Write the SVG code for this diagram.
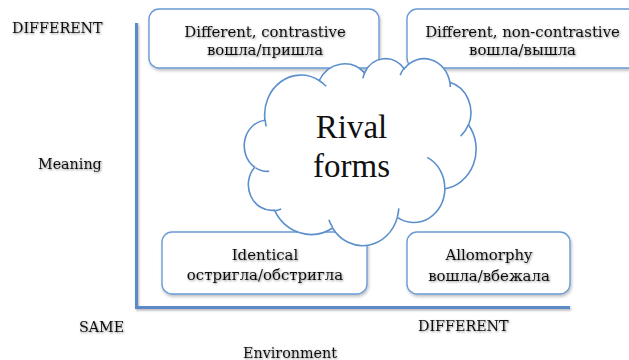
<svg xmlns="http://www.w3.org/2000/svg" width="629" height="360" viewBox="0 0 629 360">
<style>
.box{fill:#ffffff;stroke:#6a9bd6;stroke-width:1.4;filter:url(#bs)}
.t{font-family:"DejaVu Serif","Liberation Serif",serif;font-size:14.9px;fill:#111;text-anchor:middle;filter:url(#ts)}
.lab{font-family:"DejaVu Serif","Liberation Serif",serif;font-size:14.3px;fill:#111;filter:url(#ts)}
.axis{stroke:#5b8ac8;stroke-width:3;fill:none;filter:url(#as)}
.cloud{fill:#ffffff;stroke:#5b8fcb;stroke-width:1.6}
.rival{font-family:"Liberation Serif","Times New Roman",serif;font-size:33px;fill:#111;text-anchor:middle}
</style>
<defs>
<filter id="bs" x="-10%" y="-20%" width="120%" height="150%"><feDropShadow dx="1" dy="2" stdDeviation="1.5" flood-color="#000" flood-opacity="0.25"/></filter>
<filter id="ts" x="-10%" y="-30%" width="120%" height="160%"><feDropShadow dx="0.8" dy="1" stdDeviation="0.9" flood-color="#000" flood-opacity="0.45"/></filter>
<filter id="as" x="-10%" y="-10%" width="120%" height="120%"><feDropShadow dx="1" dy="1.5" stdDeviation="1" flood-color="#000" flood-opacity="0.3"/></filter>
</defs>
<rect width="629" height="360" fill="#ffffff"/>
<g id="connectors">
<path class="axis" d="M136.5,23 V307.5 H570"/>
</g>
<g id="labels">
<text class="lab" x="12" y="33">DIFFERENT</text>
<text class="lab" x="38" y="169">Meaning</text>
<text class="lab" x="79" y="332">SAME</text>
<text class="lab" x="418" y="331">DIFFERENT</text>
<text class="lab" x="243" y="358">Environment</text>
</g>
<g id="box-contrastive">
<rect class="box" x="149" y="9" width="230" height="59" rx="10"/>
<text class="t" x="265" y="37">Different, contrastive</text>
<text class="t" x="265" y="55">вошла/пришла</text>
</g>
<g id="box-noncontrastive">
<rect class="box" x="407" y="9" width="231" height="59" rx="10"/>
<text class="t" x="522.5" y="37">Different, non-contrastive</text>
<text class="t" x="522.5" y="55">вошла/вышла</text>
</g>
<g id="box-identical">
<rect class="box" x="162" y="232" width="205" height="62" rx="10"/>
<text class="t" x="265" y="260">Identical</text>
<text class="t" x="265" y="280">остригла/обстригла</text>
</g>
<g id="box-allomorphy">
<rect class="box" x="407" y="232" width="163" height="62" rx="10"/>
<text class="t" x="489" y="260">Allomorphy</text>
<text class="t" x="489" y="281">вошла/вбежала</text>
</g>
<g id="cloud-rival">
<g transform="translate(244,58) scale(0.0053704,0.0043287)">
<path class="cloud" vector-effect="non-scaling-stroke" d="M3900 14370 A6753 9190 0 0 1 14006 5203 A5333 7267 0 0 1 22458 3435 A4365 5945 0 0 1 29836 2485 A4857 6595 0 0 1 38321 5580 A5333 7273 0 0 1 41821 15464 A6775 9220 0 0 1 37407 30208 A5785 7867 0 0 1 28559 36819 A6752 9215 0 0 1 16484 39272 A7720 10543 0 0 1 5674 35147 A4360 5918 0 0 1 1981 25228 A4345 5945 0 0 1 3900 14370 Z"/>
<path class="cloud" style="fill:none" vector-effect="non-scaling-stroke" d="M4693 26177 A4345 5945 0 0 1 2160 25380 M6928 34899 A4360 5918 0 0 1 5819 35281 M16478 39090 A6752 9215 0 0 1 15810 37349 M28827 34751 A6752 9215 0 0 1 28561 36660 M34129 22954 A5785 7867 0 0 1 37380 30090 M41798 15354 A5333 7273 0 0 1 40350 18030 M38324 5426 A4857 6595 0 0 1 38400 6690 M29078 3952 A4857 6595 0 0 1 29820 2340 M22141 4720 A4365 5945 0 0 1 22500 3331 M14000 5192 A6753 9190 0 0 1 15300 6541 M4127 15789 A6753 9190 0 0 1 3952 14382"/>
</g>
<text class="rival" x="351.5" y="138">Rival</text>
<text class="rival" x="351.5" y="177">forms</text>
</g>
</svg>
